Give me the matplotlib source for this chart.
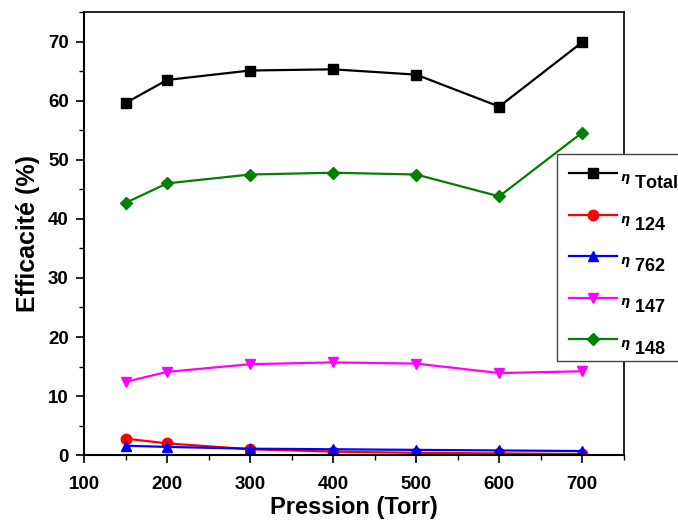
import numpy as np
import matplotlib
matplotlib.use('Agg')
import matplotlib.pyplot as plt
from matplotlib.ticker import MultipleLocator
from matplotlib.transforms import ScaledTranslation

plt.rcParams['font.family'] = ['Liberation Sans', 'DejaVu Sans']
plt.rcParams['font.weight'] = 'bold'

# ======================= donnees =======================
pression = [150, 200, 300, 400, 500, 600, 700]
eta_totale = [59.6, 63.5, 65.1, 65.3, 64.4, 59.0, 69.9]
eta_124 = [2.8, 2.0, 1.0, 0.6, 0.4, 0.3, 0.2]
eta_762 = [1.6, 1.4, 1.1, 1.0, 0.9, 0.8, 0.7]
eta_147 = [12.4, 14.1, 15.4, 15.7, 15.5, 13.9, 14.2]
eta_148 = [42.7, 46.0, 47.5, 47.8, 47.5, 43.8, 54.6]

series = [
    (eta_totale, 'Totale', 'black', 's'),
    (eta_124, '124', 'red', 'o'),
    (eta_762, '762', 'blue', '^'),
    (eta_147, '147', 'magenta', 'v'),
    (eta_148, '148', 'green', 'D'),
]

# ======================= figure =======================
fig = plt.figure(figsize=(6.78, 5.22), dpi=100)
ax = fig.add_axes([0.124, 0.128, 0.796, 0.849])

for valeurs, nom, couleur, marqueur in series:
    ms = 6.5 if marqueur == 'D' else 7.5
    ax.plot(pression, valeurs, color=couleur, marker=marqueur, markersize=ms,
            linewidth=1.6, label=r'$^{\eta}$ ' + nom)

ax.set_xlim(100, 750)
ax.set_ylim(0, 75)
ax.xaxis.set_major_locator(MultipleLocator(100))
ax.xaxis.set_minor_locator(MultipleLocator(50))
ax.yaxis.set_major_locator(MultipleLocator(10))
ax.yaxis.set_minor_locator(MultipleLocator(5))
ax.tick_params(which='major', direction='out', length=6, width=1.2, labelsize=13.5, pad=5)
ax.tick_params(axis='x', which='major', pad=9)
ax.tick_params(which='minor', direction='out', length=3.5, width=1.0)
for s in ['left', 'bottom']:
    ax.spines[s].set_linewidth(1.5)
for s in ['top', 'right']:
    ax.spines[s].set_linewidth(1.2)
for lab in ax.get_xticklabels() + ax.get_yticklabels():
    lab.set_fontweight('bold')

ax.set_xlabel('Pression (Torr)', fontsize=17, fontweight='bold', labelpad=2)
ax.set_ylabel('Efficacité (%)', fontsize=18, fontweight='bold', labelpad=6)

leg = ax.legend(loc='upper left', bbox_to_anchor=(0.8215, 0.705),
                bbox_transform=fig.transFigure, borderaxespad=0,
                fancybox=False, edgecolor='#444444', framealpha=1,
                prop={'size': 13, 'weight': 'bold'},
                handlelength=2.7, handletextpad=0.15, labelspacing=1.3,
                borderpad=0.65)
leg.get_frame().set_linewidth(1.0)
# le texte de la legende est un peu plus bas que la ligne
for t in leg.get_texts():
    t.set_transform(t.get_transform() + ScaledTranslation(0, -6 / 72, fig.dpi_scale_trans))

fig.savefig('out.png', dpi=100)
